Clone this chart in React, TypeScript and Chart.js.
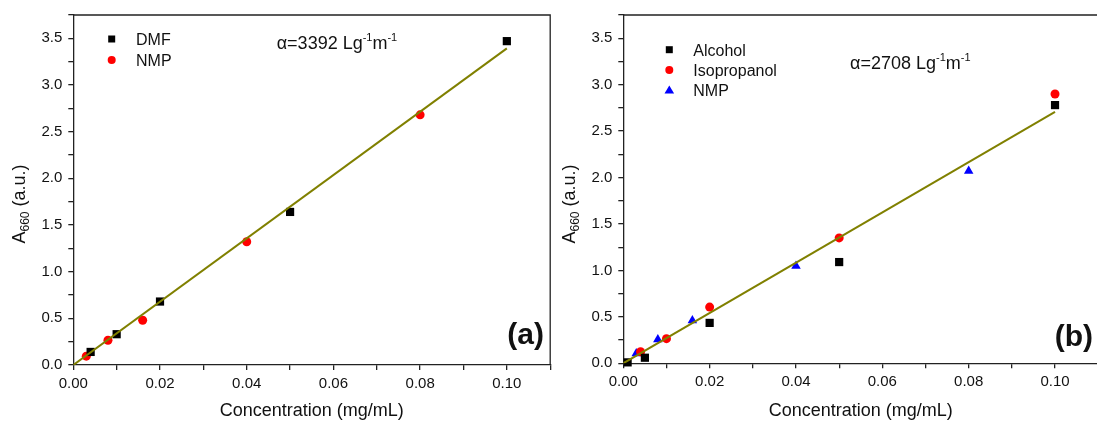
import React, { useEffect, useRef } from 'react';
import { Chart, registerables } from 'chart.js';

Chart.register(...registerables);

// ---------- data: panel (a) ----------
const dmfX = [0.004, 0.01, 0.02, 0.05, 0.1];
const dmfY = [0.14, 0.33, 0.68, 1.64, 3.47];
const nmpAX = [0.003, 0.008, 0.016, 0.04, 0.08];
const nmpAY = [0.095, 0.265, 0.48, 1.32, 2.68];
const fitAX = [0, 0.1];
const fitAY = [0, 3.392];

// ---------- data: panel (b) ----------
const alcoholX = [0.001, 0.005, 0.02, 0.05, 0.1];
const alcoholY = [0.01, 0.06, 0.435, 1.09, 2.78];
const isoX = [0.004, 0.01, 0.02, 0.05, 0.1];
const isoY = [0.124, 0.265, 0.605, 1.35, 2.9];
const nmpBX = [0.003, 0.008, 0.016, 0.04, 0.08];
const nmpBY = [0.105, 0.257, 0.462, 1.048, 2.07];
const fitBX = [0, 0.1];
const fitBY = [0, 2.708];

// ---------- axis ----------
const xMin = 0;
const xMax = 0.11;
const xStep = 0.01;
const yMin = 0;
const yMax = 3.75;
const yStep = 0.25;

const xTitle = 'Concentration (mg/mL)';
const alphaA = '3392';
const alphaB = '2708';

const FONT = '"Liberation Sans", Arial, Helvetica, sans-serif';
const OLIVE = '#808000';
const INK = '#111';
const AXIS = '#222';

type Series = { label: string; xs: number[]; ys: number[]; color: string; style: string; radius: number };

type PanelCfg = {
  series: Series[];
  fitX: number[];
  fitY: number[];
  alpha: string;
  panelLabel: string;
  top: number;
  xAxisHeight: number;
  padRight: number;
  legendMarkerX: number;
  legendTextX: number;
  legendBaseline: number;
  legendStep: number;
  alphaX: number;
  alphaBaseline: number;
  labelRight: number;
  labelMiddle: number;
};

const panelA: PanelCfg = {
  series: [
    { label: 'DMF', xs: dmfX, ys: dmfY, color: '#000000', style: 'rect', radius: 5.8 },
    { label: 'NMP', xs: nmpAX, ys: nmpAY, color: '#ff0000', style: 'circle', radius: 4.5 },
  ],
  fitX: fitAX,
  fitY: fitAY,
  alpha: alphaA,
  panelLabel: '(a)',
  top: 12.7,
  xAxisHeight: 61,
  padRight: 2,
  legendMarkerX: 111.7,
  legendTextX: 136,
  legendBaseline: 45,
  legendStep: 21,
  alphaX: 276.7,
  alphaBaseline: 49.3,
  labelRight: 544,
  labelMiddle: 336,
};

const panelB: PanelCfg = {
  series: [
    { label: 'Alcohol', xs: alcoholX, ys: alcoholY, color: '#000000', style: 'rect', radius: 5.8 },
    { label: 'Isopropanol', xs: isoX, ys: isoY, color: '#ff0000', style: 'circle', radius: 4.5 },
    { label: 'NMP', xs: nmpBX, ys: nmpBY, color: '#0000ff', style: 'triangle', radius: 5.5 },
  ],
  fitX: fitBX,
  fitY: fitBY,
  alpha: alphaB,
  panelLabel: '(b)',
  top: 11.7,
  xAxisHeight: 62.7,
  padRight: 2,
  legendMarkerX: 119.3,
  legendTextX: 143.3,
  legendBaseline: 55.7,
  legendStep: 20.2,
  alphaX: 300,
  alphaBaseline: 69.3,
  labelRight: 543,
  labelMiddle: 338,
};

function drawMarker(ctx: CanvasRenderingContext2D, style: string, x: number, y: number, color: string) {
  ctx.fillStyle = color;
  ctx.beginPath();
  if (style === 'rect') {
    ctx.rect(x - 3.5, y - 3.5, 7, 7);
  } else if (style === 'circle') {
    ctx.arc(x, y, 4, 0, Math.PI * 2);
  } else {
    ctx.moveTo(x, y - 4.5);
    ctx.lineTo(x + 4.8, y + 3.5);
    ctx.lineTo(x - 4.8, y + 3.5);
    ctx.closePath();
  }
  ctx.fill();
}

function makeDecor(cfg: PanelCfg) {
  return {
    id: 'decor',
    afterDraw(chart: any) {
      const ctx: CanvasRenderingContext2D = chart.ctx;
      const a = chart.chartArea;
      ctx.save();
      // frame top & right
      ctx.strokeStyle = AXIS;
      ctx.lineWidth = 1.3;
      ctx.beginPath();
      ctx.moveTo(a.left, a.top);
      ctx.lineTo(a.right, a.top);
      ctx.lineTo(a.right, a.bottom);
      ctx.stroke();

      // y title with subscript
      ctx.fillStyle = INK;
      ctx.textBaseline = 'alphabetic';
      ctx.textAlign = 'left';
      const big = `18px ${FONT}`;
      const small = `12px ${FONT}`;
      ctx.font = big;
      const wA = ctx.measureText('A').width;
      const wRest = ctx.measureText(' (a.u.)').width;
      ctx.font = small;
      const wSub = ctx.measureText('660').width;
      const total = wA + wSub + wRest;
      ctx.translate(25, 204);
      ctx.rotate(-Math.PI / 2);
      let cx = -total / 2;
      ctx.font = big;
      ctx.fillText('A', cx, 0);
      cx += wA;
      ctx.font = small;
      ctx.fillText('660', cx, 4);
      cx += wSub;
      ctx.font = big;
      ctx.fillText(' (a.u.)', cx, 0);
      ctx.setTransform(1, 0, 0, 1, 0, 0);
      ctx.restore();

      ctx.save();
      // legend
      ctx.textBaseline = 'alphabetic';
      ctx.textAlign = 'left';
      cfg.series.forEach((s, i) => {
        const bl = cfg.legendBaseline + i * cfg.legendStep;
        drawMarker(ctx, s.style, cfg.legendMarkerX, bl - 6, s.color);
        ctx.fillStyle = INK;
        ctx.font = `16px ${FONT}`;
        ctx.fillText(s.label, cfg.legendTextX, bl);
      });

      // alpha annotation
      ctx.fillStyle = INK;
      let ax = cfg.alphaX;
      const ab = cfg.alphaBaseline;
      const parts: [string, boolean][] = [
        [`\u03b1=${cfg.alpha} Lg`, false],
        ['-1', true],
        ['m', false],
        ['-1', true],
      ];
      parts.forEach(([t, sup]) => {
        ctx.font = sup ? `11px ${FONT}` : `18px ${FONT}`;
        ctx.fillText(t, ax, sup ? ab - 8 : ab);
        ax += ctx.measureText(t).width;
      });

      // panel label
      ctx.font = `bold 30px ${FONT}`;
      ctx.textAlign = 'right';
      ctx.textBaseline = 'middle';
      ctx.fillText(cfg.panelLabel, cfg.labelRight, cfg.labelMiddle);
      ctx.restore();
    },
  };
}

function Panel({ cfg, left, width }: { cfg: PanelCfg; left: number; width: number }) {
  const ref = useRef<HTMLCanvasElement>(null);
  useEffect(() => {
    if (!ref.current) return;
    const datasets: any[] = [
      {
        label: 'fit',
        data: cfg.fitX.map((x, i) => ({ x, y: cfg.fitY[i] })),
        showLine: true,
        borderColor: OLIVE,
        borderWidth: 2,
        pointRadius: 0,
        order: 0,
      },
      ...cfg.series.map((s) => ({
        label: s.label,
        data: s.xs.map((x, i) => ({ x, y: s.ys[i] })),
        backgroundColor: s.color,
        borderColor: s.color,
        borderWidth: 0,
        pointStyle: s.style,
        pointRadius: s.radius,
        showLine: false,
        clip: false,
        order: 1,
      })),
    ];
    const chart = new Chart(ref.current, {
      type: 'scatter',
      data: { datasets },
      options: {
        animation: false,
        responsive: false,
        events: [],
        layout: { padding: { left: 0, right: cfg.padRight, top: cfg.top, bottom: 0 } },
        plugins: { legend: { display: false }, tooltip: { enabled: false } },
        scales: {
          x: {
            type: 'linear',
            min: xMin,
            max: xMax,
            afterFit: (s: any) => {
              s.height = cfg.xAxisHeight;
            },
            ticks: {
              stepSize: xStep,
              autoSkip: false,
              maxRotation: 0,
              padding: 5,
              color: INK,
              font: { family: FONT, size: 15 },
              callback: (v: any) => (Math.round(Number(v) * 100) % 2 === 0 ? Number(v).toFixed(2) : ''),
            },
            grid: { drawOnChartArea: false, drawTicks: true, tickLength: 5, color: AXIS, lineWidth: 1.3 },
            border: { color: AXIS, width: 1.3 },
            title: {
              display: true,
              text: xTitle,
              color: INK,
              font: { family: FONT, size: 18 },
              padding: { top: 4, bottom: 4 },
            },
          },
          y: {
            type: 'linear',
            min: yMin,
            max: yMax,
            afterFit: (s: any) => {
              s.width = 73.3;
            },
            ticks: {
              stepSize: yStep,
              autoSkip: false,
              padding: 6,
              color: INK,
              font: { family: FONT, size: 15 },
              callback: (v: any) => (Math.round(Number(v) * 4) % 2 === 0 ? Number(v).toFixed(1) : ''),
            },
            grid: { drawOnChartArea: false, drawTicks: true, tickLength: 5, color: AXIS, lineWidth: 1.3 },
            border: { color: AXIS, width: 1.3 },
          },
        },
      },
      plugins: [makeDecor(cfg)],
    } as any);
    return () => chart.destroy();
  }, [cfg]);
  return (
    <canvas
      ref={ref}
      width={width}
      height={426}
      style={{ position: 'absolute', left, top: 0, width, height: 426 }}
    />
  );
}

export default function App() {
  useEffect(() => {
    document.body.style.margin = '0';
    document.body.style.overflow = 'hidden';
  }, []);
  return (
    <div style={{ position: 'relative', width: 1097, height: 426, overflow: 'hidden', background: '#fff' }}>
      <Panel cfg={panelA} left={0} width={556} />
      <Panel cfg={panelB} left={550} width={554} />
    </div>
  );
}
